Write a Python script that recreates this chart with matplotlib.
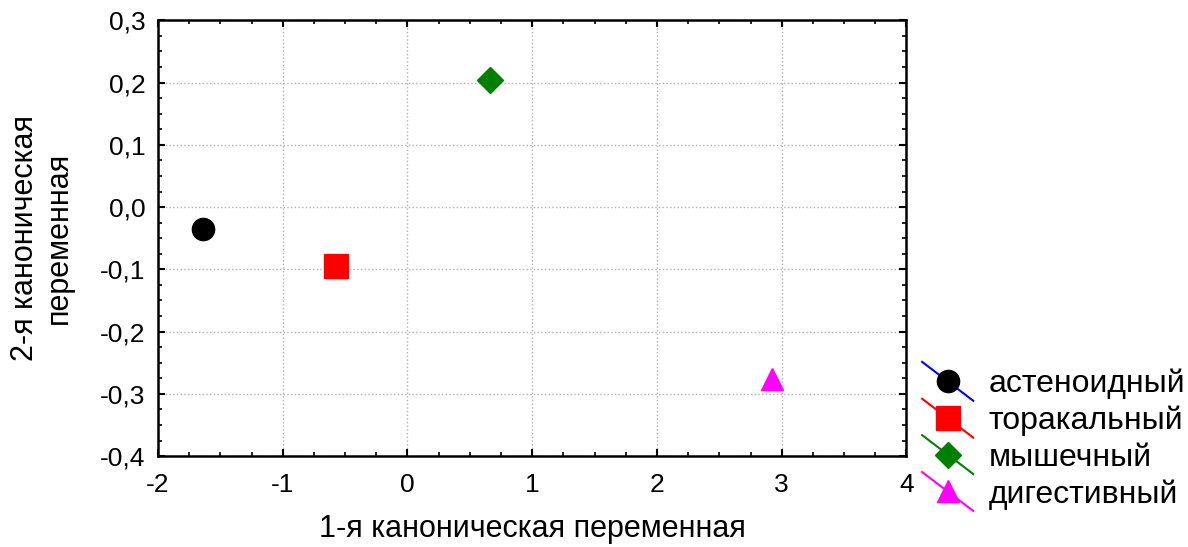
import matplotlib
matplotlib.use("Agg")
import matplotlib.pyplot as plt
from matplotlib.lines import Line2D
from matplotlib.legend_handler import HandlerLine2D
from matplotlib.ticker import MultipleLocator, FuncFormatter

plt.rcParams['font.family'] = ['Liberation Sans', 'DejaVu Sans']

groups = ["астеноидный", "торакальный", "мышечный", "дигестивный"]
root1 = [-1.64, -0.575, 0.665, 2.925]
root2 = [-0.036, -0.095, 0.204, -0.276]
colors = ["black", "red", "green", "magenta"]
line_colors = ["blue", "red", "green", "magenta"]
markers = ["o", "s", "D", "^"]
msizes = [16, 17, 13, 16]


class DiagHandler(HandlerLine2D):
    # legend key like STATISTICA: marker sitting on a diagonal line
    def create_artists(self, legend, orig_handle, xdescent, ydescent,
                       width, height, fontsize, trans):
        x0, x1 = -xdescent, -xdescent + width
        yc = -ydescent + height / 2
        y0, y1 = yc + 14, yc - 14
        ln = Line2D([x0, x1], [y0, y1], color=orig_handle.get_color(), lw=1.5)
        mk = Line2D([(x0 + x1) / 2], [yc], ls="none",
                    marker=orig_handle.get_marker(),
                    markersize=orig_handle.get_markersize(),
                    markerfacecolor=orig_handle.get_markerfacecolor(),
                    markeredgecolor=orig_handle.get_markeredgecolor())
        ln.set_transform(trans)
        mk.set_transform(trans)
        return [ln, mk]


fig = plt.figure(figsize=(11.88, 5.47), dpi=100)
ax = fig.add_axes([0.133, 0.166, 0.630, 0.797])

handles = []
for i in range(len(groups)):
    ax.plot(root1[i], root2[i], ls="none", marker=markers[i], ms=msizes[i],
            color=colors[i], zorder=3)
    handles.append(Line2D([], [], color=line_colors[i], marker=markers[i],
                          ms=msizes[i], markerfacecolor=colors[i],
                          markeredgecolor=colors[i]))

ax.set_xlim(-2, 4)
ax.set_ylim(-0.4, 0.3)
ax.xaxis.set_major_locator(MultipleLocator(1))
ax.xaxis.set_minor_locator(MultipleLocator(0.25))
ax.yaxis.set_major_locator(MultipleLocator(0.1))
ax.yaxis.set_minor_locator(MultipleLocator(0.025))
ax.xaxis.set_major_formatter(FuncFormatter(lambda v, p: "%d" % round(v)))
ax.yaxis.set_major_formatter(FuncFormatter(lambda v, p: ("%.1f" % v).replace(".", ",").replace("-0,0", "0,0")))
ax.tick_params(which="both", direction="in", top=True, right=True, labelsize=19, pad=9)
ax.tick_params(axis="x", pad=12)
ax.tick_params(which="major", length=5, width=1.5)
ax.tick_params(which="minor", length=3, width=1.2)
ax.grid(True, which="major", ls=":", color="#b0b0b0", lw=1)
for s in ax.spines.values():
    s.set_linewidth(1.8)

ax.set_xlabel("1-я каноническая переменная", fontsize=22, labelpad=12)
ax.set_ylabel("2-я каноническая\nпеременная", fontsize=22, labelpad=19, linespacing=1.15)

fig.legend(handles, groups, loc="upper left", bbox_to_anchor=(0.752, 0.378),
           frameon=False, fontsize=23, handler_map={Line2D: DiagHandler()},
           handlelength=1.6, handletextpad=0.47, labelspacing=0.2)

fig.savefig("out.png", dpi=100)
